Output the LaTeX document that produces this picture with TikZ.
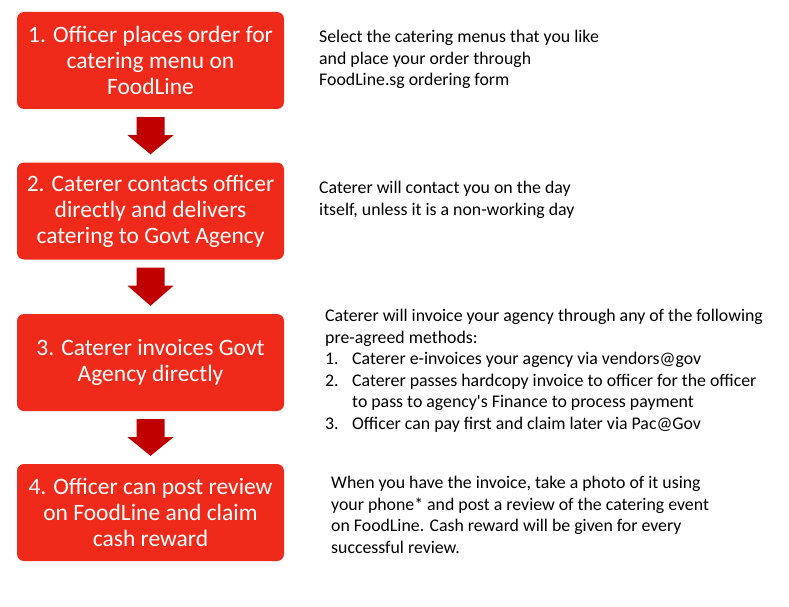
\documentclass[tikz,border=0pt]{standalone}
\usepackage{fontspec}
\setmainfont{Carlito}
\usetikzlibrary{calc}
\definecolor{boxred}{RGB}{240,42,26}
\definecolor{arrred}{RGB}{192,0,0}
\newcommand{\blockarr}[2]{\fill[arrred] ($(#1.south)+(-14,8)$) -- ++(28,0) -- ++(0,18) -- ++(9,0) -- ($(#2.north)+(0,-8)$) -- ($(#1.south)+(-23,26)$) -- ++(9,0) -- cycle;}
\begin{document}
\begin{tikzpicture}[x=1pt,y=-1pt,
  stepbox/.style={fill=boxred, rounded corners=7pt, minimum width=267pt, minimum height=97pt,
    text=white, align=center, font=\fontsize{23.5}{26}\selectfont, inner sep=0pt},
  note/.style={anchor=north west, align=left, font=\fontsize{17.8}{21.5}\selectfont, inner sep=0pt, text=black}]
\useasboundingbox (0,0) rectangle (789,607);
\node[stepbox] (b1) at (150.5,60.5) {1. Officer places order for\\catering menu on\\FoodLine};
\node[stepbox] (b2) at (150.5,211) {2. Caterer contacts officer\\directly and delivers\\catering to Govt Agency};
\node[stepbox] (b3) at (150.5,362.5) {3. Caterer invoices Govt\\Agency directly};
\node[stepbox] (b4) at (150.5,512.5) {4. Officer can post review\\on FoodLine and claim\\cash reward};
\blockarr{b1}{b2}
\blockarr{b2}{b3}
\blockarr{b3}{b4}
\node[note] (t1) at (319,30) {Select the catering menus that you like\\and place your order through\\FoodLine.sg ordering form};
\node[note] (t2) at (319,181) {Caterer will contact you on the day\\itself, unless it is a non-working day};
\node[note] (t3) at (325,309) {Caterer will invoice your agency through any of the following\\pre-agreed methods:\\\makebox[27pt][l]{1.}Caterer e-invoices your agency via vendors@gov\\\makebox[27pt][l]{2.}Caterer passes hardcopy invoice to officer for the officer\\\hspace*{27pt}to pass to agency\textquotesingle s Finance to process payment\\\makebox[27pt][l]{3.}Officer can pay first and claim later via Pac@Gov};
\node[note] (t4) at (331,476) {When you have the invoice, take a photo of it using\\your phone* and post a review of the catering event\\on FoodLine. Cash reward will be given for every\\successful review.};
\end{tikzpicture}
\end{document}
